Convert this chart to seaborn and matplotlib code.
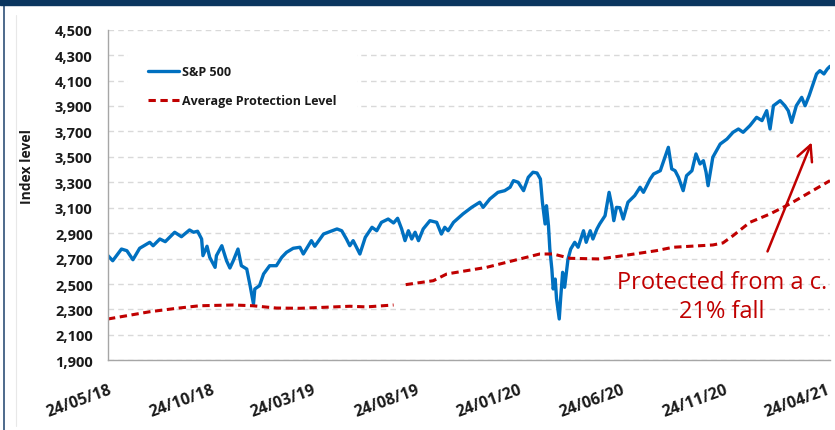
import pandas as pd
import numpy as np
import matplotlib.pyplot as plt
import seaborn as sns
import matplotlib.dates as mdates
from matplotlib.patches import Rectangle
from matplotlib.lines import Line2D

# S&P 500 index level
sp_dates = [
    "2018-05-24", "2018-05-31", "2018-06-13", "2018-06-21", "2018-06-30", "2018-07-10",
    "2018-07-25", "2018-07-30", "2018-08-09", "2018-08-17", "2018-08-31", "2018-09-10",
    "2018-09-22", "2018-09-28", "2018-10-04", "2018-10-10", "2018-10-12", "2018-10-18",
    "2018-10-22", "2018-10-30", "2018-11-01", "2018-11-09", "2018-11-16", "2018-11-21",
    "2018-11-26", "2018-12-03", "2018-12-08", "2018-12-16", "2018-12-21", "2018-12-26",
    "2018-12-28", "2019-01-04", "2019-01-10", "2019-01-19", "2019-01-29", "2019-02-06",
    "2019-02-13", "2019-02-23", "2019-03-05", "2019-03-10", "2019-03-22", "2019-03-27",
    "2019-04-09", "2019-04-29", "2019-05-06", "2019-05-13", "2019-05-18", "2019-05-23",
    "2019-06-02", "2019-06-10", "2019-06-20", "2019-06-27", "2019-07-04", "2019-07-14",
    "2019-07-22", "2019-07-28", "2019-08-03", "2019-08-08", "2019-08-13", "2019-08-18",
    "2019-08-23", "2019-08-28", "2019-09-04", "2019-09-14", "2019-09-24", "2019-10-01",
    "2019-10-06", "2019-10-11", "2019-10-19", "2019-11-02", "2019-11-15", "2019-11-27",
    "2019-12-02", "2019-12-12", "2019-12-24", "2020-01-03", "2020-01-11", "2020-01-16",
    "2020-01-23", "2020-01-31", "2020-02-07", "2020-02-14", "2020-02-20", "2020-02-25",
    "2020-02-28", "2020-03-03", "2020-03-05", "2020-03-08", "2020-03-10", "2020-03-13",
    "2020-03-15", "2020-03-18", "2020-03-20", "2020-03-24", "2020-03-26", "2020-03-29",
    "2020-04-01", "2020-04-06", "2020-04-10", "2020-04-16", "2020-04-21", "2020-04-29",
    "2020-05-03", "2020-05-09", "2020-05-13", "2020-05-19", "2020-05-23", "2020-05-31",
    "2020-06-06", "2020-06-10", "2020-06-13", "2020-06-17", "2020-06-22", "2020-06-27",
    "2020-07-04", "2020-07-14", "2020-07-22", "2020-07-27", "2020-08-06", "2020-08-11",
    "2020-08-21", "2020-08-28", "2020-09-02", "2020-09-07", "2020-09-12", "2020-09-17",
    "2020-09-24", "2020-09-29", "2020-10-07", "2020-10-13", "2020-10-19", "2020-10-24",
    "2020-10-28", "2020-10-31", "2020-11-07", "2020-11-18", "2020-11-28", "2020-12-07",
    "2020-12-15", "2020-12-22", "2021-01-01", "2021-01-11", "2021-01-19", "2021-01-26",
    "2021-01-31", "2021-02-05", "2021-02-15", "2021-02-22", "2021-02-27", "2021-03-04",
    "2021-03-11", "2021-03-19", "2021-03-24", "2021-03-30", "2021-04-05", "2021-04-10",
    "2021-04-15", "2021-04-21", "2021-04-26", "2021-04-30",
]
sp_values = [
    2723, 2683, 2775, 2762, 2691, 2781,
    2828, 2801, 2854, 2833, 2907, 2872,
    2925, 2907, 2915, 2854, 2723, 2797,
    2710, 2631, 2723, 2801, 2683, 2626,
    2683, 2775, 2644, 2618, 2487, 2343,
    2461, 2487, 2579, 2644, 2644, 2710,
    2749, 2781, 2789, 2736, 2841, 2797,
    2893, 2933, 2919, 2854, 2801, 2841,
    2736, 2867, 2946, 2919, 2985, 3011,
    2980, 3017, 2933, 2841, 2919, 2854,
    2907, 2841, 2933, 2998, 2985, 2893,
    2946, 2919, 2985, 3051, 3103, 3143,
    3103, 3169, 3221, 3234, 3261, 3313,
    3300, 3234, 3339, 3379, 3373, 3326,
    3143, 2972, 3116, 2959, 2775, 2618,
    2461, 2539, 2382, 2225, 2382, 2592,
    2474, 2697, 2775, 2828, 2789, 2919,
    2828, 2919, 2854, 2933, 2972, 3037,
    3221, 3116, 2998, 3103, 3100, 3011,
    3143, 3195, 3261, 3221, 3326, 3365,
    3391, 3497, 3575, 3405, 3391, 3339,
    3234, 3352, 3391, 3523, 3444, 3470,
    3379, 3273, 3497, 3601, 3640, 3693,
    3719, 3693, 3745, 3811, 3785, 3863,
    3719, 3902, 3942, 3902, 3863, 3771,
    3902, 3968, 3902, 3981, 4073, 4152,
    4178, 4152, 4191, 4212,
]

# Average protection level, two separate runs
prot1_dates = ["2018-05-24", "2018-07-25", "2018-09-03", "2018-10-07", "2018-11-26", "2018-12-25",
               "2019-01-29", "2019-03-05", "2019-05-18", "2019-06-12", "2019-07-22"]
prot1_values = [2225, 2282, 2309, 2329, 2335, 2329, 2311, 2309, 2325, 2320, 2335]
prot2_dates = ["2019-08-09", "2019-09-19", "2019-10-09", "2019-12-07", "2020-01-21", "2020-02-24",
               "2020-03-15", "2020-04-09", "2020-05-23", "2020-06-27", "2020-08-15", "2020-09-09",
               "2020-11-07", "2020-11-22", "2020-12-07", "2021-01-01", "2021-01-31", "2021-03-01",
               "2021-03-31", "2021-04-30"]
prot2_values = [2495, 2526, 2579, 2631, 2691, 2736, 2736, 2702, 2697, 2723, 2762, 2789,
                2807, 2823, 2880, 2985, 3051, 3129, 3221, 3313]

x_ticks = ["2018-05-24", "2018-10-24", "2019-03-24", "2019-08-24",
           "2020-01-24", "2020-06-24", "2020-11-24", "2021-04-24"]
x_labels = ["24/05/18", "24/10/18", "24/03/19", "24/08/19",
            "24/01/20", "24/06/20", "24/11/20", "24/04/21"]
y_ticks = list(range(1900, 4501, 200))
y_labels = [f"{v:,}" for v in y_ticks]

sp = pd.DataFrame({"date": pd.to_datetime(sp_dates), "value": sp_values})
prot1 = pd.DataFrame({"date": pd.to_datetime(prot1_dates), "value": prot1_values})
prot2 = pd.DataFrame({"date": pd.to_datetime(prot2_dates), "value": prot2_values})

sns.set_style("white")
plt.rcParams["font.family"] = ["Open Sans", "DejaVu Sans"]

W, H = 835, 431
fig = plt.figure(figsize=(W / 100, H / 100), dpi=100)
ax = fig.add_axes([108 / W, 1 - 361.3 / H, 722 / W, 330.6 / H])

blue = "#0070C0"
red = "#C00000"
dash = (0, (2.4, 1.5))

sns.lineplot(data=sp, x="date", y="value", ax=ax, color=blue, lw=2.4, label="S&P 500")
sns.lineplot(data=prot1, x="date", y="value", ax=ax, color=red, lw=2.2, linestyle=dash,
             label="Average Protection Level")
sns.lineplot(data=prot2, x="date", y="value", ax=ax, color=red, lw=2.2, linestyle=dash,
             label="_nolegend_")

ax.set_xlim(pd.Timestamp("2018-05-24"), pd.Timestamp("2021-04-30"))
ax.set_ylim(1900, 4500)
ax.set_yticks(y_ticks, labels=y_labels, fontweight="bold", fontsize=10.5, color="#1a1a1a")
ax.set_xticks(pd.to_datetime(x_ticks), labels=x_labels, fontweight="bold", fontsize=11.5,
              color="#1a1a1a", rotation=20, ha="right", rotation_mode="anchor")
ax.tick_params(axis="both", direction="out", length=3, width=1, color="#a6a6a6")
ax.tick_params(axis="y", pad=8)
ax.tick_params(axis="x", pad=12)

ax.yaxis.grid(True, color="#d9d9d9", linestyle=(0, (4, 3)), lw=1)
ax.xaxis.grid(False)
ax.set_axisbelow(True)
for s in ["top", "right"]:
    ax.spines[s].set_visible(False)
for s in ["left", "bottom"]:
    ax.spines[s].set_color("#a6a6a6")
    ax.spines[s].set_linewidth(1)

ax.set_xlabel("")
ax.set_ylabel("Index level", fontweight="bold", fontsize=10, color="#1a1a1a")
ax.yaxis.set_label_coords(-0.1025, 0.588)

leg = ax.legend(loc="upper left", bbox_to_anchor=(0.0277, 0.9537), frameon=True, fontsize=9,
                handlelength=2.5, handletextpad=0.2, labelspacing=1.3, borderpad=1.6,
                borderaxespad=0, fancybox=False)
leg.get_frame().set_facecolor("white")
leg.get_frame().set_edgecolor("white")
leg.get_frame().set_alpha(1)
for t in leg.get_texts():
    t.set_fontweight("bold")
    t.set_color("#1a1a1a")

ax.text(0.8504, 0.193, "Protected from a c.\n21% fall", transform=ax.transAxes,
        ha="center", va="center", fontsize=17, color=red, linespacing=1.3)
ax.annotate("", xy=(0.976, 0.667), xytext=(0.912, 0.3215), xycoords="axes fraction",
            arrowprops=dict(arrowstyle="->", color=red, lw=1.8, mutation_scale=28))

# page frame
fig.patches.append(Rectangle((0, 1 - 6 / H), 1, 6 / H, transform=fig.transFigure,
                             color="#0b365f", zorder=5))
fig.lines.append(Line2D([4 / W, 4 / W], [0, 1], transform=fig.transFigure,
                        color="#2f5078", lw=1.2))
fig.lines.append(Line2D([16 / W, 16 / W], [4 / H, 1 - 16 / H], transform=fig.transFigure,
                        color="#e8e8e8", lw=0.8))

fig.savefig("out.png", dpi=100)
